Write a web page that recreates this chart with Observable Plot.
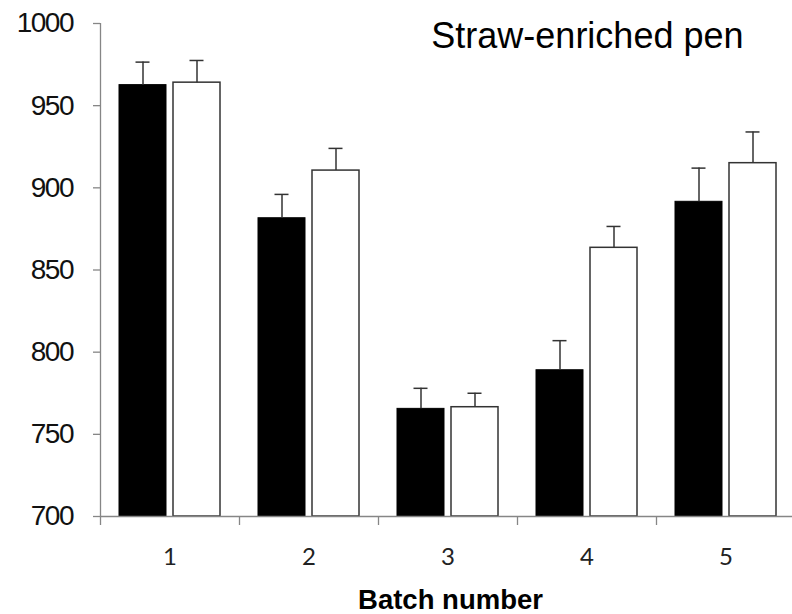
<!DOCTYPE html>
<html>
<head>
<meta charset="utf-8">
<script src="https://cdn.jsdelivr.net/npm/d3@7"></script>
<script src="https://cdn.jsdelivr.net/npm/@observablehq/plot@0.6"></script>
<style>
  html, body { margin: 0; padding: 0; background: #fff; }
  #chart svg g[aria-label="y-axis tick label"] text { letter-spacing: -1.5px; font-size: 28px !important; font-family: 'Liberation Sans', Arial, sans-serif !important; }
  #chart svg g[aria-label="y-axis tick label"] { font-size: 28px; }
  #chart svg g.xlab text { font-size: 24px !important; font-family: Lato, sans-serif !important; fill: #222; }
</style>
</head>
<body>
<div id="chart"></div>
<script>
const batches = ["1", "2", "3", "4", "5"];
const blackMeans = [962.5, 881.5, 765.5, 789, 891.5];
const blackErr = [14, 14.5, 12.5, 18, 20.5];
const whiteMeans = [964, 910.5, 766.5, 863.5, 915];
const whiteErr = [13.5, 13.5, 8.5, 13, 19];
const yTicks = [700, 750, 800, 850, 900, 950, 1000];
const titleText = "Straw-enriched pen";
const xLabel = "Batch number";

const black = batches.map((b, i) => ({batch: b, mean: blackMeans[i], hi: blackMeans[i] + blackErr[i]}));
const white = batches.map((b, i) => ({batch: b, mean: whiteMeans[i], hi: whiteMeans[i] + whiteErr[i]}));

const axisGray = "#868686";
const ink = "#333";

const chart = Plot.plot({
  width: 792,
  height: 614,
  marginLeft: 100,
  marginRight: 0,
  marginTop: 23,
  marginBottom: 98,
  style: {fontFamily: "'Liberation Sans', Arial, sans-serif", background: "#fff", color: "#111"},
  x: {domain: batches, range: [100, 795], padding: 0},
  y: {domain: [700, 1000]},
  marks: [
    Plot.barY(black, {x: "batch", y1: 700, y2: "mean", insetLeft: 19, insetRight: 73, fill: "#000", stroke: "#000", strokeWidth: 1}),
    Plot.barY(white, {x: "batch", y1: 700, y2: "mean", insetLeft: 73, insetRight: 19, fill: "#fff", stroke: ink, strokeWidth: 1.5}),
    Plot.ruleX(black, {x: "batch", y1: "mean", y2: "hi", dx: -27, stroke: ink, strokeWidth: 1.5}),
    Plot.tickY(black, {x: "batch", y: "hi", insetLeft: 35.5, insetRight: 89.5, stroke: ink, strokeWidth: 1.5}),
    Plot.ruleX(white, {x: "batch", y1: "mean", y2: "hi", dx: 27, stroke: ink, strokeWidth: 1.5}),
    Plot.tickY(white, {x: "batch", y: "hi", insetLeft: 89.5, insetRight: 35.5, stroke: ink, strokeWidth: 1.5}),
    Plot.ruleY([700], {stroke: axisGray, strokeWidth: 1.3}),
    Plot.ruleX([batches[0]], {x: d => d, dx: -69.5, y1: 700, y2: 1000, stroke: axisGray, strokeWidth: 1.3}),
    Plot.axisY({ticks: yTicks, tickFormat: d => String(d), tickSize: 7, tickPadding: 20.5, stroke: axisGray, strokeWidth: 1.3, fontSize: 28, label: null}),
    Plot.axisX({tickSize: 0, tickPadding: 31, fontSize: 24, fontFamily: "Lato, sans-serif", label: null, className: "xlab"}),
    Plot.axisX({tickSize: 9, dx: -69.5, tickFormat: () => "", stroke: axisGray, strokeWidth: 1.3, label: null}),
    Plot.text([titleText], {text: d => d, frameAnchor: "top-right", dx: -49, dy: 24, lineAnchor: "bottom", fontSize: 36, fill: "#000"}),
    Plot.text([xLabel], {text: d => d, frameAnchor: "bottom", dx: 4, dy: 92, lineAnchor: "bottom", fontSize: 27.5, fontWeight: "bold", fill: "#000"})
  ]
});
document.getElementById("chart").appendChild(chart);
</script>
</body>
</html>
